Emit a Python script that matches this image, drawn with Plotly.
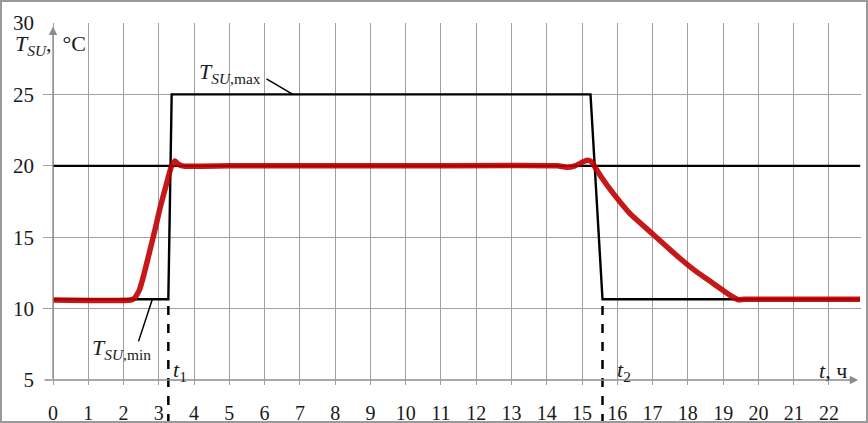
import plotly.graph_objects as go

# ---- data ----
hours_ticks = list(range(0, 23))
temp_ticks = [5, 10, 15, 20, 25, 30]

# Setpoint limits (T_SU,min / T_SU,max profile)
limit_x = [0, 3.27, 3.365, 15.24, 15.58, 22.88]
limit_y = [10.65, 10.65, 25.0, 25.0, 10.65, 10.65]

# Constant setpoint line
set_x = [0, 22.88]
set_y = [20.0, 20.0]

# Supply air temperature (measured)
meas_x = [0, 2.2, 2.32, 2.45, 2.6, 2.75, 2.89, 3.03, 3.22, 3.35, 3.46, 3.56, 3.7, 5.0,
          10.0, 14.3, 14.56, 14.8, 15.05, 15.18, 15.28, 15.37, 15.55, 15.89, 16.36,
          16.83, 17.3, 17.78, 18.25, 18.72, 19.19, 19.43, 19.6, 22.88]
meas_y = [10.6, 10.6, 10.75, 11.3, 12.6, 14.1, 15.5, 17.0, 18.75, 19.9, 20.33, 20.1, 19.98, 20.0,
          20.0, 20.0, 19.9, 20.0, 20.3, 20.38, 20.25, 19.9, 19.2, 18.05, 16.65,
          15.6, 14.56, 13.51, 12.57, 11.76, 10.94, 10.62, 10.65, 10.65]

t1 = 3.27
t2 = 15.58

# ---- layout geometry ----
W, H = 868, 423
ML, MR, MT, MB = 43, 7, 23, 43
PW, PH = W - ML - MR, H - MT - MB
px_per_hr = 35.27
x0 = -10 / px_per_hr
x_range = [x0, x0 + PW / px_per_hr]
y_range = [5, 30]

FONT = "'Liberation Serif', 'Times New Roman', serif"
GRID = "#a0a0a0"

fig = go.Figure()
fig.add_trace(go.Scatter(x=set_x, y=set_y, mode="lines",
                         line=dict(color="black", width=2.2), hoverinfo="skip"))
fig.add_trace(go.Scatter(x=limit_x, y=limit_y, mode="lines",
                         line=dict(color="black", width=2.4), hoverinfo="skip"))
fig.add_trace(go.Scatter(x=meas_x, y=meas_y, mode="lines", opacity=0.9,
                         line=dict(color="#c00000", width=5.5, shape="spline", smoothing=0.4),
                         hoverinfo="skip"))

# dashed vertical markers for t1, t2
for tv in (t1, t2):
    fig.add_shape(type="line", xref="x", yref="paper", x0=tv, x1=tv,
                  y0=-MB / PH, y1=(10.65 - 5) / 25,
                  line=dict(color="black", width=2.5, dash="dash"))

# outer frame
fig.add_shape(type="rect", xref="paper", yref="paper",
              x0=(1 - ML) / PW, x1=(W - 1 - ML) / PW,
              y0=-(MB - 1) / PH, y1=1 + (MT - 1) / PH,
              line=dict(color="#9a9a9a", width=2))

ann = []
# axis arrows
ann.append(dict(x=0, y=29.75, ax=0, ay=5, xref="x", yref="y", axref="x", ayref="y",
                text="", showarrow=True, arrowhead=2, arrowsize=1.3, arrowwidth=1.3,
                arrowcolor="#8c8c8c"))
ann.append(dict(x=22.83, y=5, ax=x_range[0], ay=5, xref="x", yref="y", axref="x", ayref="y",
                text="", showarrow=True, arrowhead=2, arrowsize=1.3, arrowwidth=1.3,
                arrowcolor="#8c8c8c"))
# leader lines
ann.append(dict(x=6.8, y=25, ax=6.01, ay=26.15, xref="x", yref="y", axref="x", ayref="y",
                text="", showarrow=True, arrowhead=0, arrowwidth=1.5, arrowcolor="black"))
ann.append(dict(x=2.81, y=10.6, ax=2.41, ay=7.6, xref="x", yref="y", axref="x", ayref="y",
                text="", showarrow=True, arrowhead=0, arrowwidth=1.5, arrowcolor="black"))

lab_font = dict(family=FONT, size=22, color="#1a1a1a")
ann.append(dict(x=(13 - ML) / PW, y=(380 - 45) / PH, xref="paper", yref="paper",
                xanchor="left", yanchor="middle", showarrow=False,
                text="<i>T</i><sub><i>SU</i></sub>, &nbsp;°C", font=lab_font))
ann.append(dict(x=5.02, y=26.5, xref="x", yref="y", showarrow=False,
                text="<i>T</i><sub><i>SU</i>,max</sub>", font=lab_font))
ann.append(dict(x=1.93, y=7.2, xref="x", yref="y", showarrow=False,
                text="<i>T</i><sub><i>SU</i>,min</sub>", font=lab_font))
ann.append(dict(x=3.6, y=5.65, xref="x", yref="y", showarrow=False,
                text="<i>t</i><sub>1</sub>", font=lab_font))
ann.append(dict(x=16.19, y=5.6, xref="x", yref="y", showarrow=False,
                text="<i>t</i><sub>2</sub>", font=lab_font))
ann.append(dict(x=22.11, y=5.65, xref="x", yref="y", showarrow=False,
                text="<i>t</i>, ч", font=lab_font))

fig.update_layout(
    width=W, height=H,
    margin=dict(l=ML, r=MR, t=MT, b=MB, pad=0, autoexpand=False),
    paper_bgcolor="white", plot_bgcolor="white",
    showlegend=False,
    font=dict(family=FONT, size=20, color="#1a1a1a"),
    annotations=ann,
    xaxis=dict(range=x_range, tickvals=hours_ticks, ticktext=[str(v) for v in hours_ticks],
               showgrid=True, gridcolor=GRID, gridwidth=1, zeroline=False, showline=False,
               ticks="outside", ticklen=4, tickcolor=GRID, ticklabelstandoff=11,
               automargin=False,
               tickfont=dict(family=FONT, size=20, color="#1a1a1a"), fixedrange=True),
    yaxis=dict(range=y_range, tickvals=temp_ticks, showgrid=True, gridcolor=GRID, gridwidth=1,
               zeroline=False, showline=False, ticks="", ticklabelstandoff=8,
               automargin=False,
               tickfont=dict(family=FONT, size=21, color="#1a1a1a"), fixedrange=True),
)

fig.write_html("out.html", config={"displayModeBar": False},
               post_script="document.body.style.margin='0';document.body.style.padding='0';")
